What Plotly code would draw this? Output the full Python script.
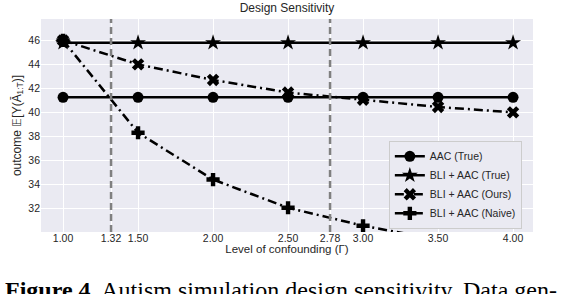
import plotly.graph_objects as go

gamma = [1.0, 1.5, 2.0, 2.5, 3.0, 3.5, 4.0]
aac_true = [41.25, 41.25, 41.25, 41.25, 41.25, 41.25, 41.25]
bli_aac_true = [45.8, 45.8, 45.8, 45.8, 45.8, 45.8, 45.8]
bli_aac_ours = [46.0, 44.0, 42.7, 41.65, 41.05, 40.45, 40.0]
bli_aac_naive = [46.0, 38.3, 34.4, 32.05, 30.55, 29.4, 28.6]
design_gammas = [1.32, 2.78]
xtick_vals = [1.00, 1.32, 1.50, 2.00, 2.50, 2.78, 3.00, 3.50, 4.00]
xtick_text = ["1.00", "1.32", "1.50", "2.00", "2.50", "2.78", "3.00", "3.50", "4.00"]
ytick_vals = [32, 34, 36, 38, 40, 42, 44, 46]

FONT = "Liberation Sans, Arial, sans-serif"
fig = go.Figure()

fig.add_trace(go.Scatter(x=gamma, y=aac_true, name="AAC (True)", mode="lines+markers",
                         line=dict(color="black", width=2.5),
                         marker=dict(symbol="circle", size=11, color="black")))
fig.add_trace(go.Scatter(x=gamma, y=bli_aac_true, name="BLI + AAC (True)", mode="lines+markers",
                         line=dict(color="black", width=2.5),
                         marker=dict(symbol="star", size=12, color="black")))
fig.add_trace(go.Scatter(x=gamma, y=bli_aac_ours, name="BLI + AAC (Ours)", mode="lines+markers",
                         line=dict(color="black", width=2.5, dash="9px,4px,2px,4px"),
                         marker=dict(symbol="x", size=11, color="black")))
fig.add_trace(go.Scatter(x=gamma, y=bli_aac_naive, name="BLI + AAC (Naive)", mode="lines+markers",
                         line=dict(color="black", width=2.5, dash="9px,4px,2px,4px"),
                         marker=dict(symbol="cross", size=11, color="black")))

for g in design_gammas:
    fig.add_shape(type="line", x0=g, x1=g, y0=0, y1=1, xref="x", yref="paper",
                  line=dict(color="#808080", width=2.5, dash="7px,4px"), layer="above")

fig.update_layout(
    width=568, height=294,
    margin=dict(l=41, r=35, t=19, b=62),
    paper_bgcolor="white",
    plot_bgcolor="#EAEAF2",
    font=dict(family=FONT, size=10, color="#262626"),
    title=dict(text="Design Sensitivity", x=0.5, xref="paper", xanchor="center",
               yref="container", y=0.972, yanchor="middle", automargin=False,
               font=dict(size=12, color="#262626")),
    xaxis=dict(range=[0.853, 4.133], tickvals=xtick_vals, ticktext=xtick_text,
               showgrid=True, gridcolor="white", gridwidth=1.3, zeroline=False,
               ticks="", showline=False, tickfont=dict(size=10.5), ticklabelstandoff=-2,
               title=dict(text="Level of confounding (Γ)", font=dict(size=11.5), standoff=0)),
    yaxis=dict(range=[30.03, 47.78], tickvals=ytick_vals,
               showgrid=True, gridcolor="white", gridwidth=1.3, zeroline=False,
               ticks="", showline=False, tickfont=dict(size=10.5),
               title=dict(text="outcome 𝔼[Y(Ā<sub>1:T</sub>)]", font=dict(size=12), standoff=4)),
    legend=dict(x=0.707, y=0.015, xanchor="left", yanchor="bottom",
                bgcolor="#EAEAF2", bordercolor="#CCCCCC", borderwidth=1,
                font=dict(size=10.5, color="#262626"), itemwidth=30,
                tracegroupgap=0),
    showlegend=True,
)

fig.add_annotation(text="<b>Figure 4</b>. Autism simulation design sensitivity. Data gen-",
                   xref="paper", yref="paper", x=-0.077, y=-0.27,
                   xanchor="left", yanchor="middle", showarrow=False,
                   font=dict(family="Liberation Serif, Times New Roman, serif", size=24, color="black"))

fig.write_html("out.html", config={"displayModeBar": False},
               post_script="document.body.style.margin='0';")
